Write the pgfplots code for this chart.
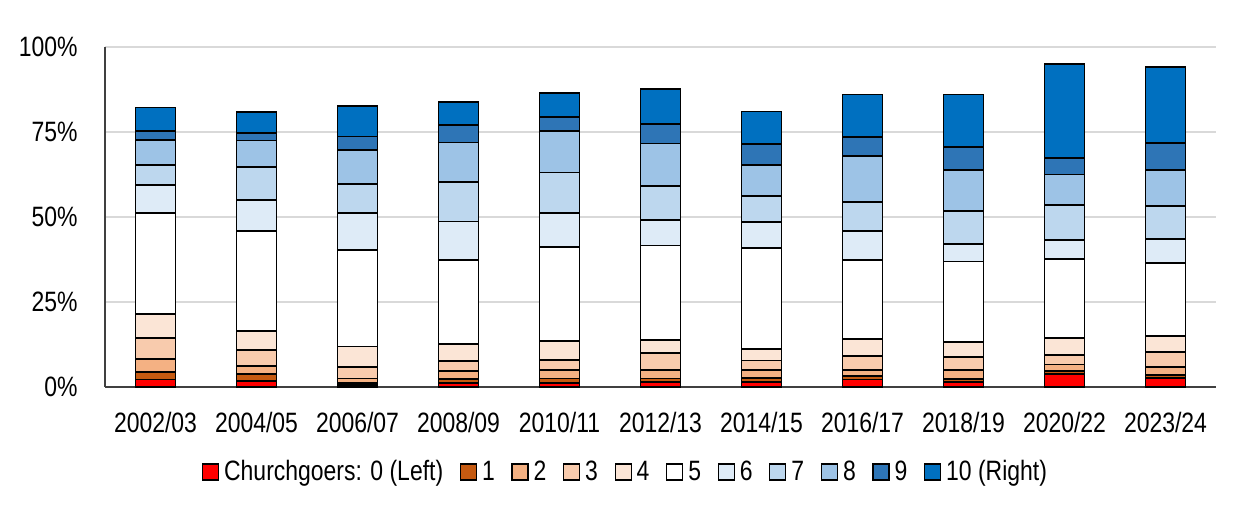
\documentclass[border=0pt]{standalone}
\usepackage{pgfplots}
\pgfplotsset{compat=1.18}
\usepackage{pgfplotstable}
\usepackage{fontspec}
\setmainfont{Liberation Sans}[FakeStretch=0.82]

\definecolor{c0}{HTML}{FF0000}
\definecolor{c1}{HTML}{C55A11}
\definecolor{c2}{HTML}{F4B183}
\definecolor{c3}{HTML}{F8CBAD}
\definecolor{c4}{HTML}{FBE5D6}
\definecolor{c5}{HTML}{FFFFFF}
\definecolor{c6}{HTML}{DEEBF7}
\definecolor{c7}{HTML}{BDD7EE}
\definecolor{c8}{HTML}{9DC3E6}
\definecolor{c9}{HTML}{2E75B6}
\definecolor{c10}{HTML}{0070C0}
\definecolor{gridc}{HTML}{D9D9D9}
\definecolor{axisc}{HTML}{404040}

\pgfplotstableread{
x s0 s1 s2 s3 s4 s5 s6 s7 s8 s9 s10
0 2.2 2.1 4.0 6.0 7.1 29.7 8.2 6.1 7.3 2.5 7.0
1 1.8 2.0 2.4 4.6 5.7 29.4 9.1 9.7 7.8 2.3 6.0
2 0.6 0.6 1.3 3.4 6.0 28.4 10.8 8.7 9.8 4.1 9.0
3 1.2 1.1 2.5 2.8 5.1 24.7 11.3 11.6 11.6 5.2 6.7
4 1.2 1.3 2.5 2.9 5.6 27.7 10.0 11.9 12.2 4.2 7.0
5 1.4 1.1 2.5 4.9 3.9 27.8 7.4 10.2 12.4 5.8 10.2
6 1.4 1.3 2.3 2.8 3.4 29.7 7.7 7.6 9.0 6.2 9.6
7 2.2 1.1 1.7 4.0 5.1 23.3 8.5 8.5 13.5 5.7 12.4
8 1.4 1.0 2.6 3.9 4.3 23.7 5.1 9.8 12.0 6.9 15.3
9 3.8 1.0 1.8 2.7 5.0 23.3 5.7 10.3 8.9 4.8 27.6
10 2.6 1.0 2.3 4.4 4.8 21.4 7.0 9.8 10.6 7.8 22.3
}\data

\pgfplotsset{
  sq/.style={fill=#1, draw=black, line width=0.9pt,
    legend image code/.code={\draw[fill=#1,draw=black,line width=0.6pt] (0pt,-4pt) rectangle (8pt,4pt);}}
}

\begin{document}
\begin{tikzpicture}
\begin{axis}[
  name=ax, at={(0,0)}, anchor=south west,
  scale only axis, width=555.5pt, height=170pt,
  xmin=-0.5, xmax=10.5, ymin=0, ymax=100,
  ybar stacked, bar width=20pt,
  axis x line*=bottom, axis y line*=left,
  axis line style={axisc, line width=0.6pt, -},
  major tick length=0pt,
  xtick={0,1,2,3,4,5,6,7,8,9,10},
  xticklabels={2002/03,2004/05,2006/07,2008/09,2010/11,2012/13,2014/15,2016/17,2018/19,2020/22,2023/24},
  ytick={0,25,50,75,100},
  yticklabels={0\%,25\%,50\%,75\%,100\%},
  xticklabel style={font=\fontsize{14}{16}\selectfont, inner sep=0pt, yshift=-12.5pt},
  yticklabel style={font=\fontsize{14}{16}\selectfont, inner sep=0pt, xshift=-13.5pt},
  ymajorgrids, grid style={gridc, line width=0.75pt},
  clip=false,
  legend style={at={(0.468,-0.25)}, anchor=center, legend columns=-1, draw=none,
    font=\fontsize{14}{16}\selectfont,
    nodes={inner sep=0.5pt},
    /tikz/every odd column/.append style={column sep=2pt},
    /tikz/every even column/.append style={column sep=7.8pt}},
]
\addplot[sq=c0] table[x=x,y=s0]{\data};
\addplot[sq=c1] table[x=x,y=s1]{\data};
\addplot[sq=c2] table[x=x,y=s2]{\data};
\addplot[sq=c3] table[x=x,y=s3]{\data};
\addplot[sq=c4] table[x=x,y=s4]{\data};
\addplot[sq=c5] table[x=x,y=s5]{\data};
\addplot[sq=c6] table[x=x,y=s6]{\data};
\addplot[sq=c7] table[x=x,y=s7]{\data};
\addplot[sq=c8] table[x=x,y=s8]{\data};
\addplot[sq=c9] table[x=x,y=s9]{\data};
\addplot[sq=c10] table[x=x,y=s10]{\data};
\legend{Churchgoers: 0 (Left),1,2,3,4,5,6,7,8,9,10 (Right)}
\end{axis}
\pgfresetboundingbox
\path[use as bounding box] ([xshift=-52.5pt,yshift=-62.5pt]ax.south west) rectangle ++(620pt,256pt);
\end{tikzpicture}
\end{document}
